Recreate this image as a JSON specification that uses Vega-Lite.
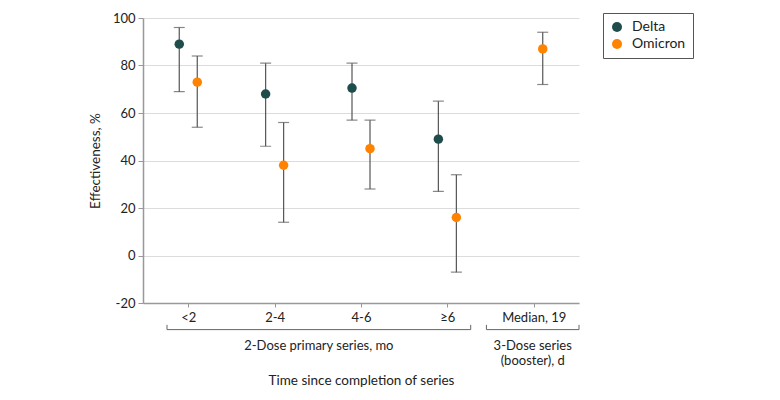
{
  "$schema": "https://vega.github.io/schema/vega-lite/v6.json",
  "autosize": {"type": "none"},
  "width": 436,
  "height": 285,
  "padding": {"left": 143, "top": 18, "right": 201, "bottom": 97},
  "config": {
    "font": "Lato",
    "view": {"stroke": null},
    "axis": {"labelFont": "Lato", "titleFont": "Lato", "labelFontSize": 13, "titleFontSize": 13.5, "titleFontWeight": "normal", "labelColor": "#222", "titleColor": "#222", "domainColor": "#999", "tickColor": "#999", "domainWidth": 1.5}
  },
  "datasets": {
    "est": [
      {"period": "<2", "variant": "Delta", "est": 89, "lo": 69, "hi": 96},
      {"period": "<2", "variant": "Omicron", "est": 73, "lo": 54, "hi": 84},
      {"period": "2-4", "variant": "Delta", "est": 68, "lo": 46, "hi": 81},
      {"period": "2-4", "variant": "Omicron", "est": 38, "lo": 14, "hi": 56},
      {"period": "4-6", "variant": "Delta", "est": 70.5, "lo": 57, "hi": 81},
      {"period": "4-6", "variant": "Omicron", "est": 45, "lo": 28, "hi": 57},
      {"period": "≥6", "variant": "Delta", "est": 49, "lo": 27, "hi": 65},
      {"period": "≥6", "variant": "Omicron", "est": 16, "lo": -7, "hi": 34},
      {"period": "Median, 19", "variant": "Omicron", "est": 87, "lo": 72, "hi": 94}
    ],
    "groups": [
      {"group": "2-Dose primary series, mo", "start": -0.246, "end": 3.27},
      {"group": "3-Dose series\n(booster), d", "start": 3.452, "end": 4.524}
    ]
  },
  "layer": [
    {
      "data": {"name": "est"},
      "encoding": {
        "x": {"field": "period", "type": "ordinal",
          "scale": {"type": "point", "padding": 0.524, "domain": ["<2", "2-4", "4-6", "≥6", "Median, 19"]},
          "axis": {"title": "Time since completion of series", "labelAngle": 0, "tickSize": 4, "labelPadding": 4, "titlePadding": 49, "grid": false}},
        "xOffset": {"field": "variant", "type": "nominal", "scale": {"type": "point", "domain": ["Delta", "Omicron"], "range": [-9, 9], "padding": 0}}
      },
      "layer": [
        {
          "mark": {"type": "rule", "color": "#555", "strokeWidth": 1.2},
          "encoding": {
            "y": {"field": "lo", "type": "quantitative",
              "scale": {"domain": [-20, 100], "nice": false, "zero": false},
              "axis": {"title": "Effectiveness, %", "values": [-20, 0, 20, 40, 60, 80, 100], "labelExpr": "datum.value + ''", "tickSize": 5, "labelPadding": 3, "titlePadding": 10, "gridColor": "#dcdcdc", "gridWidth": 1.2}},
            "y2": {"field": "hi"}
          }
        },
        {
          "mark": {"type": "tick", "orient": "horizontal", "color": "#555", "size": 11, "thickness": 1.2},
          "encoding": {"y": {"field": "lo", "type": "quantitative"}}
        },
        {
          "mark": {"type": "tick", "orient": "horizontal", "color": "#555", "size": 11, "thickness": 1.2},
          "encoding": {"y": {"field": "hi", "type": "quantitative"}}
        },
        {
          "mark": {"type": "point", "filled": true, "opacity": 1, "size": 90},
          "encoding": {
            "y": {"field": "est", "type": "quantitative"},
            "color": {"field": "variant", "type": "nominal",
              "scale": {"domain": ["Delta", "Omicron"], "range": ["#1E4D4B", "#FF8300"]},
              "legend": {"title": null, "orient": "none", "legendX": 460, "legendY": -5, "strokeColor": "#555", "padding": 7, "symbolType": "circle", "symbolSize": 100, "labelFontSize": 14, "labelFont": "Lato", "labelColor": "#222", "rowPadding": 3, "labelOffset": 8}}
          }
        }
      ]
    },
    {
      "data": {"name": "groups"},
      "encoding": {
        "x": {"field": "start", "type": "quantitative", "scale": {"domain": [-0.524, 4.524], "nice": false, "zero": false}, "axis": null}
      },
      "layer": [
        {
          "mark": {"type": "rule", "color": "#666", "strokeWidth": 1},
          "encoding": {"x2": {"field": "end"}, "y": {"datum": -31.2}}
        },
        {
          "transform": [{"fold": ["start", "end"], "as": ["side", "pos"]}],
          "mark": {"type": "rule", "color": "#666", "strokeWidth": 1},
          "encoding": {"x": {"field": "pos", "type": "quantitative"}, "y": {"datum": -31.2}, "y2": {"datum": -29.2}}
        },
        {
          "transform": [{"calculate": "(datum.start + datum.end) / 2", "as": "mid"}],
          "mark": {"type": "text", "baseline": "top", "align": "center", "fontSize": 13, "font": "Lato", "color": "#222", "lineBreak": "\n", "lineHeight": 15},
          "encoding": {"x": {"field": "mid", "type": "quantitative"}, "y": {"datum": -35.6}, "text": {"field": "group"}}
        }
      ]
    }
  ],
  "resolve": {"scale": {"x": "independent"}, "axis": {"x": "independent"}}
}
